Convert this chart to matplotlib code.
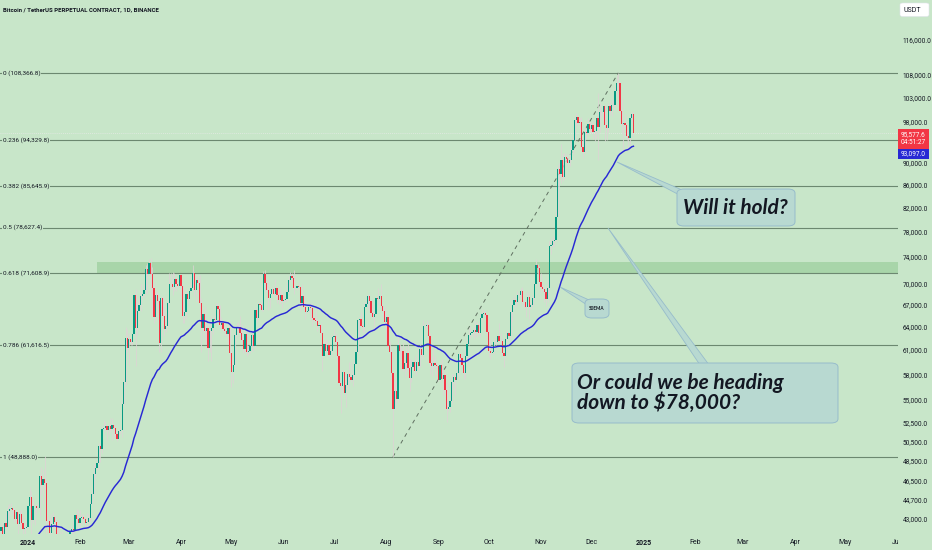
import numpy as np
import pandas as pd
import matplotlib
matplotlib.use("Agg")
import matplotlib.pyplot as plt
import matplotlib.dates as mdates
from matplotlib.ticker import NullLocator, FixedLocator
from matplotlib.patches import FancyBboxPatch, Polygon, Rectangle

# daily candles in thousands of USDT, first candle 2023-12-15, last 2024-12-26
# open of each candle = close of the previous one
first_day = "2023-12-15"
first_open = 43.02

closes = [
    # Dec 2023 (15..31)
    41.93, 42.24, 41.36, 42.66, 42.26, 43.65, 43.86, 43.99, 43.74, 43.01, 43.58, 42.52, 43.44, 42.58, 42.07, 42.14, 42.28,
    # Jan
    44.18, 44.96, 42.85, 44.18, 44.16, 43.97, 43.93, 46.97, 46.12, 46.66, 46.34, 42.78, 42.84, 41.73, 42.51, 43.15,
    42.74, 41.26, 41.62, 41.66, 41.58, 39.57, 39.89, 40.08, 39.93, 41.82, 42.12, 42.03, 43.30, 42.94, 42.58,
    # Feb
    43.08, 43.19, 43.00, 42.58, 42.70, 43.09, 44.34, 45.29, 47.13, 47.77, 48.29, 49.96, 49.70, 51.80, 51.94,
    52.16, 51.66, 52.12, 51.78, 52.26, 51.85, 51.30, 50.73, 51.57, 51.73, 54.49, 57.06, 62.50, 61.20,
    # Mar
    62.44, 62.03, 63.13, 68.33, 63.80, 66.11, 66.93, 68.30, 68.50, 69.02, 72.12, 71.48, 73.08, 71.40, 69.40, 65.31,
    68.39, 67.55, 61.91, 67.91, 65.49, 63.78, 64.06, 67.21, 69.96, 69.99, 69.45, 70.74, 69.89, 69.65, 71.33,
    # Apr
    69.70, 65.45, 65.98, 68.50, 67.84, 68.90, 69.36, 71.62, 69.14, 70.59, 70.06, 67.19, 63.82, 65.74, 63.43,
    63.81, 61.28, 63.51, 63.84, 64.99, 64.94, 66.84, 66.41, 64.29, 64.50, 63.77, 63.46, 63.12, 63.84, 60.64,
    # May
    58.25, 59.12, 62.89, 63.89, 64.03, 63.16, 62.33, 61.19, 63.05, 60.79, 60.82, 61.46, 62.88, 61.55, 66.27, 65.23,
    67.05, 66.94, 66.28, 71.45, 70.14, 69.12, 67.93, 68.53, 69.28, 68.51, 69.40, 68.37, 67.63, 68.35, 67.49,
    # Jun
    67.72, 67.76, 68.80, 70.57, 71.08, 70.79, 69.34, 69.31, 69.65, 69.51, 67.32, 68.24, 66.75, 66.01, 66.19,
    66.64, 66.49, 65.16, 64.96, 64.83, 64.10, 64.25, 63.18, 60.28, 61.80, 60.86, 61.70, 60.32, 60.89, 62.68,
    # Jul
    62.85, 62.03, 60.20, 57.03, 56.66, 58.24, 55.85, 56.70, 58.03, 57.72, 57.34, 57.90, 59.23, 60.79, 64.87, 65.10,
    64.12, 63.97, 66.71, 67.16, 68.17, 67.56, 65.93, 65.37, 65.80, 67.91, 67.81, 68.25, 66.78, 66.19, 64.62,
    # Aug
    65.35, 61.50, 60.70, 58.12, 54.02, 56.03, 55.13, 61.70, 60.88, 60.94, 58.71, 59.35, 60.61, 58.74, 57.56, 58.87,
    59.49, 58.43, 59.49, 59.01, 61.16, 60.38, 64.09, 64.17, 64.22, 62.83, 59.42, 59.03, 59.38, 59.12, 58.97,
    # Sep
    57.33, 59.13, 57.49, 57.97, 56.16, 53.96, 54.16, 54.88, 57.04, 57.65, 57.34, 58.13, 60.55, 60.01, 59.20,
    58.20, 60.31, 61.76, 62.95, 63.20, 63.35, 63.58, 63.33, 64.26, 63.14, 65.18, 65.79, 65.89, 65.63, 63.33,
    # Oct
    60.84, 60.63, 60.75, 62.09, 62.06, 62.82, 62.22, 62.13, 60.58, 60.27, 62.45, 63.19, 62.85, 66.05, 67.04, 67.61,
    67.37, 68.40, 68.36, 69.00, 67.37, 67.36, 66.65, 68.16, 66.64, 67.01, 67.93, 69.91, 72.72, 72.34, 70.21,
    # Nov
    69.48, 69.30, 68.74, 67.80, 69.36, 75.64, 75.90, 76.54, 76.70, 80.37, 88.70, 87.95, 90.39, 87.25, 91.06,
    90.59, 89.85, 90.46, 92.31, 94.29, 98.32, 98.92, 97.67, 97.90, 93.01, 91.95, 95.86, 95.64, 97.46, 96.41,
    # Dec (1..26)
    97.19, 95.84, 95.99, 98.59, 96.95, 99.83, 99.87, 101.11, 97.32, 96.59, 101.12, 100.04, 101.42,
    101.37, 104.30, 106.03, 106.10, 100.18, 97.46, 97.76, 97.22, 95.10, 94.69, 98.68, 99.41, 95.58,
]

highs = [
    43.08, 42.59, 42.75, 42.75, 43.48, 44.27, 44.29, 44.39, 44.00, 43.94, 43.80, 43.60, 43.68, 43.80, 43.12, 42.58, 42.88,
    44.18, 45.88, 45.50, 44.77, 44.34, 44.20, 44.50, 47.20, 47.90, 47.70, 48.97, 46.50, 43.25, 43.07, 43.38, 43.56,
    43.20, 42.93, 42.20, 41.86, 41.88, 41.70, 40.13, 40.54, 40.26, 42.23, 42.20, 42.84, 43.33, 43.88, 43.75,
    43.75, 43.42, 43.38, 43.12, 43.50, 43.42, 44.51, 45.60, 48.20, 48.15, 48.58, 50.35, 50.36, 52.08, 52.82,
    52.58, 52.25, 52.35, 52.99, 52.98, 52.37, 52.03, 51.55, 51.69, 52.00, 54.91, 57.55, 64.00, 63.68,
    63.15, 62.43, 63.23, 68.50, 69.17, 67.60, 67.99, 70.00, 68.70, 70.00, 72.80, 73.00, 73.65, 73.78, 72.40, 70.04,
    68.85, 68.90, 68.10, 68.03, 68.20, 66.65, 65.97, 67.62, 71.56, 71.50, 71.67, 71.55, 70.91, 70.30, 71.37,
    71.34, 69.70, 66.90, 69.29, 68.73, 69.00, 70.28, 72.72, 71.75, 71.13, 71.25, 71.24, 67.93, 65.82, 66.87,
    64.36, 64.46, 64.10, 65.45, 65.39, 65.69, 67.20, 67.20, 67.04, 65.28, 64.80, 63.92, 64.35, 64.17, 64.70,
    60.85, 59.60, 63.33, 64.49, 64.64, 65.50, 64.42, 62.99, 63.42, 63.46, 61.48, 61.83, 63.45, 63.10, 66.50, 66.70,
    67.45, 67.40, 67.70, 71.92, 71.95, 70.62, 70.08, 69.20, 69.55, 69.52, 70.61, 69.55, 68.90, 69.50, 69.00,
    67.86, 68.42, 70.27, 71.05, 71.76, 71.63, 71.99, 69.55, 69.85, 70.18, 69.55, 70.00, 68.45, 67.30, 66.46,
    66.92, 67.25, 66.58, 65.70, 66.45, 65.05, 64.52, 64.50, 63.35, 62.35, 62.45, 62.30, 62.20, 61.20, 62.90,
    63.84, 63.24, 62.15, 60.47, 57.53, 58.48, 58.38, 58.13, 58.30, 59.45, 59.45, 58.55, 59.82, 61.42, 64.90, 65.36,
    66.07, 64.80, 67.45, 67.60, 68.37, 68.48, 67.80, 67.06, 66.10, 68.24, 69.39, 68.32, 70.00, 66.90, 66.80,
    65.60, 65.60, 62.20, 61.10, 58.30, 57.10, 57.72, 62.70, 61.75, 61.40, 61.85, 60.70, 61.57, 61.80, 59.85, 59.85,
    59.65, 60.26, 59.60, 61.40, 61.80, 61.40, 64.95, 64.50, 64.94, 64.49, 63.20, 60.23, 61.16, 60.20, 59.40,
    59.07, 59.42, 59.82, 58.52, 58.33, 56.99, 54.85, 55.30, 58.08, 58.04, 57.98, 58.60, 60.63, 60.63, 60.39,
    59.20, 61.36, 62.39, 63.85, 64.10, 63.55, 64.00, 64.75, 64.68, 64.82, 65.79, 66.48, 66.26, 66.08, 65.60,
    64.13, 62.38, 61.47, 62.48, 62.37, 62.97, 64.47, 63.20, 62.52, 61.32, 63.42, 63.48, 63.28, 66.50, 67.90, 68.42,
    67.90, 68.97, 68.69, 69.40, 69.49, 67.84, 67.43, 68.85, 68.77, 67.45, 68.34, 70.23, 73.62, 72.90, 72.65,
    71.59, 69.90, 69.40, 69.48, 70.57, 76.40, 76.90, 77.20, 76.98, 81.50, 89.60, 89.95, 93.43, 91.77, 91.85,
    91.76, 91.62, 92.55, 94.00, 94.90, 99.00, 99.80, 98.80, 98.61, 98.95, 94.73, 97.33, 96.61, 98.69, 97.80,
    97.90, 98.15, 96.30, 99.00, 103.90, 101.88, 100.55, 101.35, 101.20, 98.25, 101.90, 102.50, 102.54,
    102.65, 105.25, 107.79, 108.37, 106.40, 102.80, 98.00, 99.54, 97.41, 96.41, 99.42, 99.96, 99.90,
]

lows = [
    40.98, 41.72, 41.26, 40.53, 41.82, 42.21, 43.32, 43.40, 43.31, 42.74, 42.74, 41.70, 42.11, 42.31, 41.30, 41.52, 42.09,
    42.18, 44.18, 40.75, 42.65, 42.43, 43.40, 43.80, 43.20, 45.24, 44.30, 45.60, 41.50, 42.43, 41.72, 41.70, 42.05,
    42.20, 40.67, 40.30, 41.45, 41.45, 39.45, 38.55, 39.50, 39.50, 39.85, 41.63, 41.68, 41.80, 42.70, 42.30,
    42.24, 42.56, 42.86, 42.25, 42.26, 42.61, 42.81, 44.30, 45.24, 46.89, 47.54, 47.70, 48.35, 49.25, 51.31,
    51.62, 50.65, 51.17, 51.51, 50.62, 50.82, 50.90, 50.53, 50.70, 51.30, 50.90, 54.43, 56.70, 60.80,
    59.20, 61.60, 61.65, 62.90, 59.00, 62.87, 65.97, 66.20, 67.95, 68.10, 68.70, 68.50, 71.30, 68.60, 65.60, 64.50,
    64.80, 66.60, 60.75, 60.75, 64.53, 62.75, 63.29, 63.93, 66.96, 69.20, 68.34, 68.90, 69.00, 69.55, 69.60,
    68.20, 64.52, 64.50, 65.10, 66.95, 67.62, 68.83, 69.05, 68.21, 67.50, 69.60, 65.10, 60.80, 62.30, 62.40,
    61.75, 59.60, 60.80, 59.60, 63.10, 64.27, 64.60, 65.85, 63.98, 63.85, 63.30, 62.80, 62.80, 61.75, 59.19,
    56.55, 56.94, 58.80, 62.64, 63.42, 63.00, 62.05, 60.63, 60.60, 60.21, 60.46, 60.63, 60.84, 60.90, 61.33, 64.62,
    65.10, 66.60, 66.10, 66.10, 68.80, 68.87, 66.31, 66.60, 68.55, 68.23, 68.21, 67.30, 67.12, 67.10, 66.60,
    67.41, 67.33, 67.60, 68.56, 70.40, 70.15, 68.50, 69.18, 69.15, 69.25, 66.08, 66.85, 66.28, 65.10, 65.90,
    66.02, 65.10, 64.08, 64.70, 64.52, 63.40, 63.95, 63.17, 58.40, 60.61, 60.72, 60.71, 60.05, 60.48, 60.80,
    62.50, 61.77, 59.45, 56.90, 53.49, 56.02, 55.73, 54.20, 56.29, 57.17, 57.06, 56.60, 57.78, 59.38, 60.65, 62.43,
    63.85, 63.33, 63.33, 66.50, 66.60, 66.30, 65.50, 65.12, 63.50, 65.74, 66.70, 67.10, 66.70, 65.30, 64.50,
    62.35, 61.20, 59.85, 57.20, 48.89, 53.95, 54.60, 54.80, 59.80, 60.26, 58.45, 57.65, 58.41, 58.45, 56.08, 57.10,
    58.80, 58.35, 57.87, 58.50, 58.90, 59.87, 60.35, 63.57, 63.80, 62.80, 58.03, 57.85, 58.70, 57.77, 58.75,
    57.20, 57.12, 57.40, 55.60, 55.69, 52.50, 53.72, 53.64, 54.59, 56.38, 55.55, 57.33, 57.98, 59.44, 58.70,
    57.49, 57.62, 59.19, 61.60, 62.48, 62.77, 62.36, 62.65, 62.70, 62.99, 62.69, 64.84, 65.46, 65.42, 62.85,
    60.10, 59.87, 60.46, 60.48, 61.70, 62.08, 62.11, 61.85, 60.33, 58.90, 60.23, 62.45, 62.10, 62.56, 64.80, 66.70,
    66.70, 67.16, 67.92, 68.10, 66.85, 66.58, 65.26, 66.57, 65.12, 66.42, 66.84, 67.62, 69.73, 71.44, 69.70,
    68.79, 68.83, 67.46, 66.81, 67.46, 68.80, 74.40, 75.50, 75.70, 76.50, 80.30, 85.10, 86.25, 86.60, 87.10,
    90.05, 89.25, 89.40, 90.95, 91.61, 94.10, 97.20, 97.05, 95.80, 92.60, 90.80, 91.80, 94.65, 95.35, 96.10,
    95.70, 94.50, 94.00, 94.66, 90.50, 95.80, 98.90, 98.10, 94.10, 94.25, 95.80, 99.30, 99.20,
    100.80, 101.23, 103.33, 105.33, 100.00, 95.70, 92.10, 96.40, 94.20, 92.40, 93.40, 97.60, 95.16,
]

ema_len = 50
ema_seed = 38.8          # 50 EMA (thousands) on the day before the first candle

fib_ratios = [0, 0.236, 0.382, 0.5, 0.618, 0.786, 1]
fib_prices = [108366.8, 94329.8, 85645.9, 78627.4, 71608.9, 61616.5, 48888.0]
fib_low_day = "2024-08-05"
fib_high_day = "2024-12-17"

zone_low, zone_high = 71608.9, 73200.0
zone_start = "2024-02-11"

price_ticks = [116000, 108000, 103000, 98000, 90000, 86000, 82000, 78000, 74000, 70000,
               67000, 64000, 61000, 58000, 55000, 52500, 50500, 48500, 46500, 44700, 43000]

last_price = 95577.6
countdown = "04:51:27"
ema_label = 93097.0

# colours
BG = "#c8e6c9"
UP = "#089981"
DOWN = "#f23645"
WICK = "#ddd3d4"
EMA_C = "#2828d4"
FIB_C = "#6c8870"
BOX_FC = "#b8d9d1"
BOX_EC = "#97bccb"
TXT = "#131722"

SMALL = "Roboto"
NOTE = ["Lato", "DejaVu Sans"]

W, H = 932, 550
AX_R, AX_B = 898, 534    # plot area right / bottom edge in pixels


def px(x, y):
    """pixel position (from top-left) -> axes fraction"""
    return x / AX_R, 1 - y / AX_B


def main():
    n = len(closes)
    assert len(highs) == n and len(lows) == n, (n, len(highs), len(lows))
    dates = pd.date_range(first_day, periods=n, freq="D")
    x = mdates.date2num(dates)

    c = np.array(closes) * 1000
    o = np.concatenate([[first_open], closes[:-1]]) * 1000
    hi = np.maximum(np.array(highs) * 1000, np.maximum(o, c))
    lo = np.minimum(np.array(lows) * 1000, np.minimum(o, c))

    # 50 EMA
    k = 2 / (ema_len + 1)
    ema = []
    prev = ema_seed * 1000
    for v in c:
        prev = prev + k * (v - prev)
        ema.append(prev)

    fig = plt.figure(figsize=(W / 100, H / 100), dpi=100, facecolor=BG)
    ax = fig.add_axes([0, 1 - AX_B / H, AX_R / W, AX_B / H])
    ax.set_facecolor(BG)
    ax.set_yscale("log")

    jan1 = mdates.date2num(pd.Timestamp("2024-01-01"))
    ax.set_xlim(jan1 - 16.62, jan1 + 517.3)
    ax.set_ylim(41660, 126040)

    for s in ax.spines.values():
        s.set_visible(False)

    # green resistance zone
    zx = mdates.date2num(pd.Timestamp(zone_start))
    ax.fill_between([zx, jan1 + 600], zone_low, zone_high, color="#a8d5a9", lw=0, zorder=1)

    # fib levels
    for r, p in zip(fib_ratios, fib_prices):
        ax.axhline(p, color=FIB_C, lw=0.8, zorder=2)
        ax.text(3 / AX_R, p, f"{r} ({p:,.1f})", transform=ax.get_yaxis_transform(),
                ha="left", va="center", fontsize=4.6, color=TXT, family=SMALL,
                bbox=dict(fc=BG, ec="none", pad=0.6), zorder=3)

    # dashed fib trend line
    xa = mdates.date2num(pd.Timestamp(fib_low_day))
    xb = mdates.date2num(pd.Timestamp(fib_high_day))
    ax.plot([xa, xb], [fib_prices[-1], fib_prices[0]], color="#5f6f60", lw=0.7,
            ls=(0, (4, 4)), zorder=3)

    # current price line
    ax.axhline(last_price, color="#e6eae6", lw=0.6, ls=(0, (1, 1.5)), zorder=2)

    # candles
    ax.vlines(x, lo, hi, color=WICK, lw=0.55, zorder=4)
    up = c >= o
    body_h = np.abs(c - o)
    body_b = np.minimum(o, c)
    ax.bar(x[up], body_h[up], bottom=body_b[up], width=0.75, color=UP, lw=0, zorder=5)
    ax.bar(x[~up], body_h[~up], bottom=body_b[~up], width=0.75, color=DOWN, lw=0, zorder=5)

    # EMA
    ax.plot(x, ema, color=EMA_C, lw=1.05, zorder=6)

    # y axis on the right
    ax.yaxis.tick_right()
    ax.yaxis.set_major_locator(FixedLocator(price_ticks))
    ax.yaxis.set_minor_locator(NullLocator())
    ax.set_yticklabels([f"{t:,.1f}" for t in price_ticks])
    ax.tick_params(axis="y", length=0, pad=3.5, labelsize=4.7, labelcolor=TXT)
    for lab in ax.get_yticklabels():
        lab.set_family(SMALL)

    # x axis months
    ticks = pd.date_range("2024-01-01", "2025-06-01", freq="MS")
    labels = [str(t.year) if t.month == 1 else t.strftime("%b") for t in ticks]
    ax.set_xticks(mdates.date2num(ticks))
    ax.set_xticklabels(labels)
    ax.tick_params(axis="x", length=0, pad=3.5, labelsize=5.0, labelcolor=TXT)
    for lab in ax.get_xticklabels():
        lab.set_family(SMALL)
        if lab.get_text().isdigit():
            lab.set_fontweight("bold")

    # callouts
    def callout(box, tip, base, text, size, pad_x, weight="normal", style="italic"):
        x0, y0, x1, y1 = box
        bx, by = px(x0, y1)
        bw = (x1 - x0) / AX_R
        bh = (y1 - y0) / AX_B
        rect = FancyBboxPatch((bx, by), bw, bh, boxstyle="round,pad=0,rounding_size=0.008",
                              transform=ax.transAxes, fc=BOX_FC, ec=BOX_EC, lw=0.7, zorder=8)
        ax.add_patch(rect)
        tri = Polygon([px(*tip), px(*base[0]), px(*base[1])], closed=True,
                      transform=ax.transAxes, fc=BOX_FC, ec=BOX_EC, lw=0.6, zorder=7)
        ax.add_patch(tri)
        tx, ty = px(x0 + pad_x, (y0 + y1) / 2)
        ax.text(tx, ty, text, transform=ax.transAxes, ha="left", va="center",
                fontsize=size, style=style, weight=weight, color=TXT, family=NOTE,
                linespacing=1.0, zorder=9)

    callout((677, 189, 795, 226), (617, 162), [(681, 189.5), (677.5, 194)],
            "Will it hold?", 15.0, 6, weight="bold")
    callout((572, 363, 838, 423), (608, 228), [(699, 363.5), (708, 363.5)],
            "Or could we be heading\ndown to $78,000?", 15.0, 5, weight="bold")
    callout((585, 299, 609, 318), (560, 287), [(588, 299.5), (585.5, 304)],
            "50EMA", 3.3, 4, weight="bold", style="normal")

    # right-hand price labels
    def plabel(y0, y1, fc, lines, size):
        fig.patches.append(Rectangle((AX_R / W, 1 - y1 / H), 31 / W, (y1 - y0) / H,
                                     transform=fig.transFigure, fc=fc, ec="none", zorder=3))
        fig.text((AX_R + 3) / W, 1 - (y0 + y1) / 2 / H, lines, ha="left", va="center",
                 fontsize=size, color="white", family=SMALL, linespacing=1.15, zorder=4)

    plabel(128.5, 148.5, DOWN, f"{last_price:,.1f}\n{countdown}", 4.7)
    plabel(148.5, 158.5, EMA_C, f"{ema_label:,.1f}", 4.7)

    # USDT box
    fig.patches.append(FancyBboxPatch((900 / W, 1 - 16.5 / H), 29 / W, 13.5 / H,
                                      boxstyle="round,pad=0,rounding_size=0.003",
                                      transform=fig.transFigure, fc="white", ec="#e0e3eb",
                                      lw=0.4, zorder=3))
    fig.text(903 / W, 1 - 10 / H, "USDT", ha="left", va="center", fontsize=5,
             color=TXT, family=SMALL, zorder=4)

    # hide the part of the June label under the price scale
    fig.patches.append(Rectangle((AX_R / W, 0), 1 - AX_R / W, (H - AX_B - 1) / H,
                                 transform=fig.transFigure, fc=BG, ec="none", zorder=2))

    # title
    fig.text(3 / W, 1 - 10 / H, "Bitcoin / TetherUS PERPETUAL CONTRACT, 1D, BINANCE",
             ha="left", va="center", fontsize=4.3, weight="bold", color=TXT,
             family=SMALL, zorder=4)

    fig.savefig("out.png", dpi=100, facecolor=BG)


if __name__ == "__main__":
    main()
